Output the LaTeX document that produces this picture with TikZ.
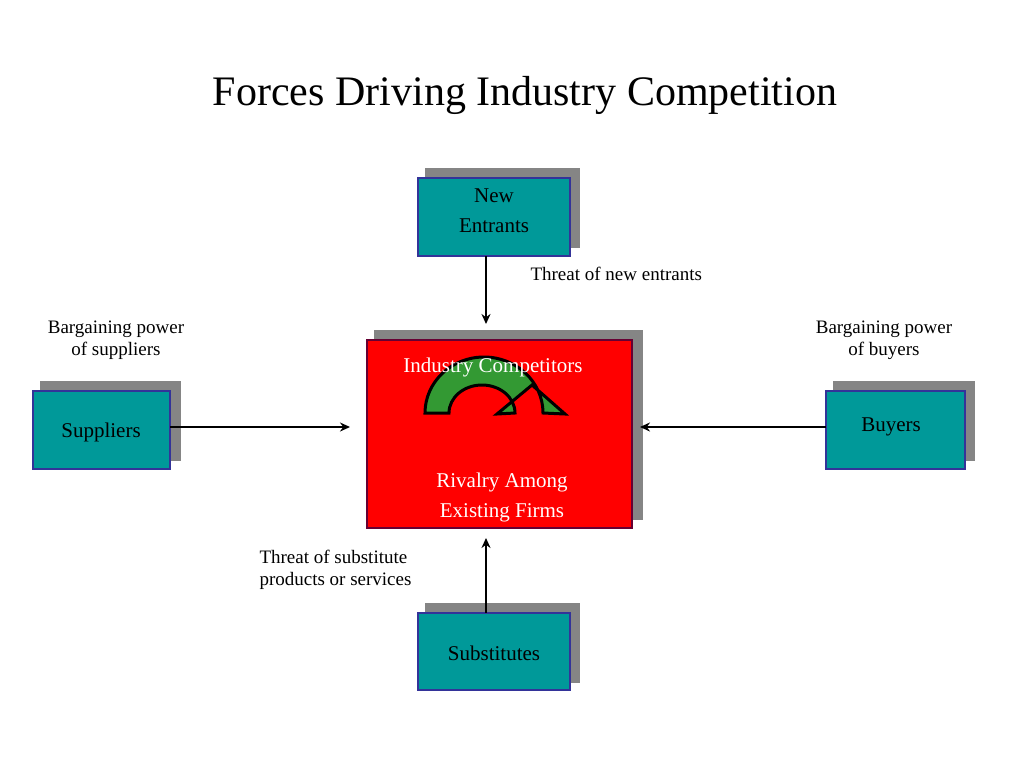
\documentclass[tikz,border=0pt]{standalone}
\usepackage{fontspec}
\setmainfont{Liberation Serif}
\usepackage{tikz}
\usetikzlibrary{arrows.meta}
\definecolor{tealbox}{HTML}{009999}
\definecolor{navyline}{HTML}{333399}
\definecolor{shadowgray}{HTML}{858585}
\definecolor{darkmaroon}{HTML}{660033}
\definecolor{rivalgreen}{HTML}{339933}
\tikzset{
  force/.style={fill=tealbox, draw=navyline, line width=2.5pt},
  shade box/.style={fill=shadowgray},
  label text/.style={font=\fontsize{19}{22}\selectfont, align=center},
  box text/.style={font=\fontsize{21}{30}\selectfont, align=center},
  push/.style={-{Stealth[length=10pt,width=9pt]}, line width=2.2pt}
}
\begin{document}
\begin{tikzpicture}[x=1pt, y=-1pt]
    \useasboundingbox (0,0) rectangle (1024,768);
    % title
    \node[font=\fontsize{42}{48}\selectfont] (title) at (525,95) {Forces Driving Industry Competition};

    % draw shadows
    \fill[shade box] (374,330) rectangle (643,520);
    \fill[shade box] (425,168) rectangle (580,248);
    \fill[shade box] (40,381) rectangle (181,461);
    \fill[shade box] (833,381) rectangle (975,461);
    \fill[shade box] (425,603) rectangle (580,683);

    % draw boxes
    \filldraw[fill=red, draw=darkmaroon, line width=2.5pt] (367,340) rectangle (632,528);
    \filldraw[force] (418,178) rectangle (570,256);
    \filldraw[force] (33,391) rectangle (170,469);
    \filldraw[force] (826,391) rectangle (965,469);
    \filldraw[force] (418,613) rectangle (570,690);

    % rivalry arrow
    \filldraw[fill=rivalgreen, draw=black, line width=3pt, line join=miter]
      (425,413) arc[start angle=180, end angle=360, x radius=59, y radius=56]
      -- (565,414) -- (532,385) -- (497,414) -- (515,413)
      arc[start angle=360, end angle=180, x radius=33, y radius=28] -- cycle;

    % draw symbols
    \node[box text] (entrants) at (494,211) {New\\Entrants};
    \node[box text] (suppliers) at (101,432) {Suppliers};
    \node[box text] (buyers) at (891,427) {Buyers};
    \node[box text] (substitutes) at (494,653) {Substitutes};
    \node[box text, text=white] (industry) at (493,367) {Industry Competitors};
    \node[box text, text=white] (rivalry) at (502,497) {Rivalry Among\\Existing Firms};

    \node[label text, anchor=west] (threatnew) at (527,274) {Threat of new entrants};
    \node[label text] (supplierpower) at (116,340) {Bargaining power\\of suppliers};
    \node[label text] (buyerpower) at (884,340) {Bargaining power\\of buyers};
    \node[label text, align=left, anchor=west] (threatsub) at (256,570) {Threat of substitute\\products or services};

    % draw forces
    \coordinate (entrantsend) at (486,324);
    \coordinate (suppliersend) at (350,427);
    \coordinate (buyersend) at (640,427);
    \coordinate (substitutesend) at (486,538);
    \draw[push] (486,256) -- (entrantsend);
    \draw[push] (170,427) -- (suppliersend);
    \draw[push] (826,427) -- (buyersend);
    \draw[push] (486,613) -- (substitutesend);
\end{tikzpicture}
\end{document}
